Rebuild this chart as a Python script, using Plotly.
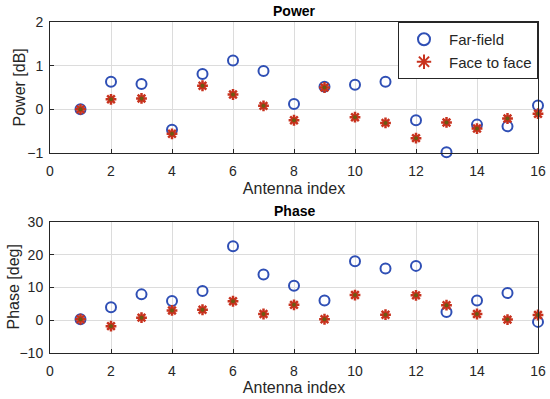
import plotly.graph_objects as go

antenna = list(range(1, 17))
power_far = [0.0, 0.63, 0.58, -0.47, 0.81, 1.12, 0.88, 0.12, 0.52, 0.565, 0.63, -0.25, -0.98, -0.35, -0.39, 0.09]
power_f2f = [0.0, 0.23, 0.25, -0.56, 0.54, 0.34, 0.08, -0.25, 0.50, -0.18, -0.31, -0.66, -0.30, -0.44, -0.21, -0.10]
phase_far = [0.3, 4.0, 7.9, 5.9, 8.9, 22.6, 14.0, 10.5, 6.0, 18.0, 15.8, 16.6, 2.5, 6.0, 8.3, -0.5]
phase_f2f = [0.3, -1.8, 0.8, 3.0, 3.2, 5.8, 1.9, 4.7, 0.3, 7.7, 1.7, 7.6, 4.6, 1.9, 0.2, 1.6]

x_ticks = [0, 2, 4, 6, 8, 10, 12, 14, 16]
power_ticks = [-1, 0, 1, 2]
phase_ticks = [-10, 0, 10, 20, 30]

blue = "#2f4fb5"
red = "#c8321e"
olive = "#6b5a12"

far_marker = dict(symbol="circle-open", size=10, color=blue, line=dict(width=2, color=blue))
f2f_marker = dict(symbol="asterisk", size=9, color=red, line=dict(width=2.5, color=red))
f2f_center = dict(symbol="circle", size=4, color=olive, line=dict(width=0))

fig = go.Figure()
fig.add_trace(go.Scatter(x=antenna, y=power_far, mode="markers", name="Far-field",
                         marker=far_marker, xaxis="x", yaxis="y", cliponaxis=False))
fig.add_trace(go.Scatter(x=antenna, y=power_f2f, mode="markers", name="Face to face",
                         marker=f2f_marker, xaxis="x", yaxis="y", cliponaxis=False))
fig.add_trace(go.Scatter(x=antenna, y=power_f2f, mode="markers", showlegend=False,
                         marker=f2f_center, xaxis="x", yaxis="y", hoverinfo="skip", cliponaxis=False))
fig.add_trace(go.Scatter(x=antenna, y=phase_far, mode="markers", showlegend=False,
                         marker=far_marker, xaxis="x2", yaxis="y2", cliponaxis=False))
fig.add_trace(go.Scatter(x=antenna, y=phase_f2f, mode="markers", showlegend=False,
                         marker=f2f_marker, xaxis="x2", yaxis="y2", cliponaxis=False))
fig.add_trace(go.Scatter(x=antenna, y=phase_f2f, mode="markers", showlegend=False,
                         marker=f2f_center, xaxis="x2", yaxis="y2", hoverinfo="skip", cliponaxis=False))

axis_common = dict(showgrid=True, gridcolor="#dcdcdc", gridwidth=1, showline=True,
                   linecolor="#262626", linewidth=1, mirror=True, ticks="inside",
                   ticklen=4, tickcolor="#262626", zeroline=False, automargin=False,
                   tickfont=dict(size=14, color="#262626"))
xaxis_extra = dict(ticklabelstandoff=5)
yaxis_extra = dict(ticklabelstandoff=3)

fig.update_layout(
    width=550, height=399,
    margin=dict(l=50, r=12, t=22, b=46),
    paper_bgcolor="white", plot_bgcolor="white",
    font=dict(family="Liberation Sans, Arial, sans-serif", color="#262626"),
    showlegend=True,
    legend=dict(x=1, y=1, xanchor="right", yanchor="top", bgcolor="white",
                bordercolor="#262626", borderwidth=1, font=dict(size=15),
                itemsizing="constant", tracegroupgap=0, itemwidth=40),
    xaxis=dict(axis_common, **xaxis_extra, domain=[0, 1], range=[0, 16], tickvals=x_ticks, anchor="y",
               title=dict(text="Antenna index", font=dict(size=16), standoff=4)),
    yaxis=dict(axis_common, **yaxis_extra, domain=[0.6042, 1], range=[-1, 2], tickvals=power_ticks, anchor="x"),
    xaxis2=dict(axis_common, **xaxis_extra, domain=[0, 1], range=[0, 16], tickvals=x_ticks, anchor="y2",
                title=dict(text="Antenna index", font=dict(size=16), standoff=4)),
    yaxis2=dict(axis_common, **yaxis_extra, domain=[0, 0.3958], range=[-10, 30], tickvals=phase_ticks, anchor="x2"),
    annotations=[
        dict(text="<b>Power</b>", x=0.5, y=1, xref="paper", yref="paper", xanchor="center",
             yanchor="bottom", showarrow=False, font=dict(size=14, color="black"), yshift=1),
        dict(text="<b>Phase</b>", x=0.5, y=0.3958, xref="paper", yref="paper", xanchor="center",
             yanchor="bottom", showarrow=False, font=dict(size=14, color="black"), yshift=1),
        dict(text="Power [dB]", x=-0.0615, y=0.8021, xref="paper", yref="paper", xanchor="center",
             yanchor="middle", textangle=-90, showarrow=False, font=dict(size=16, color="#262626")),
        dict(text="Phase [deg]", x=-0.0758, y=0.1979, xref="paper", yref="paper", xanchor="center",
             yanchor="middle", textangle=-90, showarrow=False, font=dict(size=16, color="#262626")),
    ],
)

fig.write_html("out.html", config={"displayModeBar": False},
               post_script="document.body.style.margin='0';")
